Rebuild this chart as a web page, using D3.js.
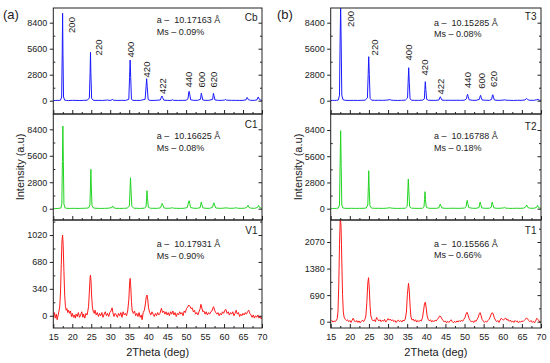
<!DOCTYPE html>
<html>
<head>
<meta charset="utf-8">
<script src="https://cdn.jsdelivr.net/npm/d3@7"></script>
<style>
  body { margin: 0; background: #fff; }
  svg { font-family: "Liberation Sans", Arial, sans-serif; }
</style>
</head>
<body>
<div id="container"></div>
<script>
/* CONSTANTS AND GLOBALS */
const width = 550;
const height = 363;

/* DATA */
const xMajor = [15, 20, 25, 30, 35, 40, 45, 50, 55, 60, 65, 70];
const xMinor = [17.5, 22.5, 27.5, 32.5, 37.5, 42.5, 47.5, 52.5, 57.5, 62.5, 67.5];

const ticksBig = [0, 2800, 5600, 8400];
const ticksBigMinor = [1400, 4200, 7000];
const ticksV1 = [0, 340, 680, 1020];
const ticksV1Minor = [170, 510, 850, 1190];
const ticksT1 = [0, 690, 1380, 2070];
const ticksT1Minor = [345, 1035, 1725, 2415];

const samples = ["Cb", "C1", "V1", "T3", "T2", "T1"];
const latticeA = ["10.17163", "10.16625", "10.17931", "10.15285", "10.16788", "10.15566"];
const strainMs = ["0.09", "0.08", "0.90", "0.08", "0.18", "0.66"];

const hkl = ["200", "220", "400", "420", "422", "440", "600", "620"];
// label anchors [2theta, intensity]
const cbLabelAt = [[19.9, 8150], [26.9, 5730], [35.5, 5510], [39.6, 3360], [43.8, 1580], [50.8, 2280], [54.0, 2280], [57.2, 2280]];
const t3LabelAt = [[20.3, 8800], [26.6, 5730], [35.3, 5190], [39.7, 3575], [43.8, 1510], [50.8, 2230], [54.5, 2140], [57.5, 2340]];

const cb = [[15,30],[15.5,20],[16,40],[16.5,30],[16.9,60],[17.2,400],[17.35,5000],[17.45,9410],[17.55,5000],[17.7,400],[18.0,60],[18.5,30],[19,20],[20,40],[21,30],[22,20],[23,40],[24,60],[24.5,300],[24.7,3000],[24.8,5210],[24.9,3000],[25.1,250],[25.5,60],[26,30],[27,40],[28,30],[29,60],[29.2,100],[29.4,50],[30,40],[30.45,80],[30.6,150],[30.8,60],[31.5,40],[32,30],[33,40],[34,30],[34.9,150],[35.1,2500],[35.25,4380],[35.4,2500],[35.6,150],[36,40],[37,30],[38,40],[39.2,150],[39.45,1500],[39.6,2370],[39.75,1500],[40,120],[40.5,40],[41,30],[42,40],[43.2,80],[43.5,400],[43.65,506],[43.8,350],[44.1,60],[45,40],[46,30],[46.4,100],[46.7,40],[48,30],[49,40],[50,50],[50.5,200],[50.7,900],[50.8,1010],[50.95,700],[51.2,100],[52,40],[53,40],[53.8,150],[54.0,800],[54.15,550],[54.4,80],[55,40],[56,40],[57.0,150],[57.2,800],[57.35,550],[57.6,80],[58.5,40],[59.5,40],[60.2,80],[60.4,150],[60.6,60],[62,40],[63,40],[64,30],[65,40],[65.8,100],[66.1,350],[66.4,120],[67,40],[68,40],[68.7,100],[69.0,400],[69.3,150],[69.7,60],[70,40]];

const c1 = [[15,20],[15.5,30],[16,20],[16.5,40],[17,70],[17.25,500],[17.4,5000],[17.52,8750],[17.65,5000],[17.8,500],[18.1,80],[18.6,40],[19.5,30],[20.5,40],[21.5,30],[22.5,40],[23.5,50],[24.3,80],[24.65,400],[24.8,2500],[24.9,4170],[25.0,2500],[25.2,300],[25.6,70],[26.5,40],[27.5,30],[28.5,40],[29.5,50],[30.4,120],[30.65,290],[30.85,100],[31.5,40],[32.5,30],[33.5,40],[34.5,60],[35.05,300],[35.22,2000],[35.35,3280],[35.48,2000],[35.7,250],[36.2,50],[37,40],[38,30],[39,60],[39.45,200],[39.58,1100],[39.7,1905],[39.82,1100],[40.05,150],[40.6,50],[41.5,40],[42.5,40],[43.3,100],[43.55,450],[43.7,570],[43.85,400],[44.2,70],[45,40],[46,60],[46.4,110],[46.7,50],[47.5,40],[48.5,30],[49.5,50],[50.3,120],[50.6,600],[50.8,850],[50.95,550],[51.2,120],[52,50],[53,40],[53.7,120],[53.9,500],[54.0,710],[54.15,450],[54.4,90],[55.2,40],[56.2,40],[57.0,150],[57.2,550],[57.35,635],[57.5,400],[57.8,80],[58.7,40],[59.7,50],[60.5,90],[61.5,40],[62.5,50],[63.2,100],[63.6,50],[64.5,40],[65.5,60],[66.0,150],[66.3,360],[66.55,150],[67,60],[68,40],[68.8,120],[69.1,350],[69.4,120],[69.8,50],[70,40]];

const v1 = [[15,-20],[15.3,40],[15.5,-30],[15.8,20],[16,-50],[16.3,10],[16.5,60],[16.7,120],[16.9,300],[17.1,650],[17.3,960],[17.45,1020],[17.6,900],[17.8,560],[18,260],[18.2,120],[18.4,70],[18.6,90],[18.8,40],[19,70],[19.3,30],[19.5,60],[19.8,-10],[20,30],[20.3,-20],[20.5,10],[20.8,-30],[21,20],[21.3,-10],[21.6,40],[21.9,-20],[22.2,10],[22.5,50],[22.8,-20],[23,20],[23.3,-30],[23.6,30],[23.9,10],[24.1,60],[24.3,120],[24.5,300],[24.7,480],[24.8,514],[24.95,430],[25.1,250],[25.3,110],[25.5,60],[25.8,30],[26,70],[26.3,10],[26.6,40],[26.9,-10],[27.2,30],[27.5,0],[27.8,40],[28.1,-20],[28.4,20],[28.7,50],[29,0],[29.3,30],[29.6,-10],[29.9,40],[30.2,60],[30.5,100],[30.7,40],[31,-10],[31.3,30],[31.6,10],[31.9,-20],[32.2,30],[32.5,0],[32.8,40],[33.1,-20],[33.4,50],[33.7,10],[34,30],[34.3,0],[34.6,60],[34.9,200],[35.1,400],[35.25,472],[35.4,380],[35.6,180],[35.8,60],[36.1,30],[36.4,60],[36.7,0],[37,30],[37.3,-10],[37.6,40],[37.9,-20],[38.2,10],[38.4,-50],[38.7,40],[39,70],[39.3,160],[39.5,240],[39.7,262],[39.9,200],[40.1,100],[40.4,40],[40.7,10],[41,50],[41.3,20],[41.6,-10],[41.9,30],[42.2,0],[42.5,40],[42.8,10],[43.1,30],[43.5,95],[43.8,40],[44.1,60],[44.4,20],[44.7,50],[45,10],[45.3,40],[45.6,0],[45.9,50],[46.2,20],[46.5,60],[46.8,10],[47.1,40],[47.4,-10],[47.7,30],[48,10],[48.3,50],[48.6,20],[48.9,40],[49.2,0],[49.5,60],[49.8,40],[50.1,90],[50.4,110],[50.7,135],[51,120],[51.3,90],[51.6,100],[51.9,50],[52.2,70],[52.5,20],[52.8,40],[53.1,10],[53.4,50],[53.7,90],[53.9,144],[54.1,110],[54.4,50],[54.7,60],[55,20],[55.3,50],[55.6,10],[55.9,40],[56.2,20],[56.5,50],[56.8,60],[57.1,100],[57.25,114],[57.5,70],[57.8,40],[58.1,20],[58.4,40],[58.7,0],[59,30],[59.3,10],[59.6,50],[59.9,30],[60.2,70],[60.5,80],[60.8,30],[61.1,50],[61.4,10],[61.7,40],[62,20],[62.3,50],[62.6,0],[62.9,30],[63.2,70],[63.5,20],[63.8,40],[64.1,-10],[64.4,20],[64.7,0],[65,30],[65.3,10],[65.6,40],[65.9,20],[66.2,50],[66.5,70],[66.8,30],[67.1,10],[67.4,-20],[67.7,10],[68,-30],[68.3,0],[68.6,-20],[68.9,10],[69.2,-30],[69.5,-10],[69.8,-40],[70,-20]];

const t3 = [[15,20],[15.5,40],[16,30],[16.5,40],[17,80],[17.3,600],[17.45,6000],[17.6,10300],[17.75,6000],[17.9,600],[18.2,120],[18.6,60],[19,40],[20,30],[21,40],[22,30],[23,40],[24,60],[24.6,300],[24.8,2800],[24.94,4740],[25.1,2800],[25.3,250],[25.7,60],[26.5,40],[27.5,50],[28.5,40],[29.5,60],[30.3,100],[30.5,150],[30.7,70],[31.5,40],[32.5,30],[33.5,40],[34.5,60],[35.1,300],[35.25,2000],[35.4,3550],[35.55,2000],[35.75,200],[36.2,50],[37,40],[38,40],[39,60],[39.5,200],[39.62,1200],[39.74,2050],[39.88,1200],[40.1,150],[40.6,50],[41.5,40],[42.5,40],[43.3,80],[43.55,350],[43.66,430],[43.8,300],[44.1,70],[45,40],[46,50],[47,40],[48,50],[49,40],[50,60],[50.5,200],[50.7,600],[50.8,690],[50.95,450],[51.2,100],[52,50],[53,40],[53.9,150],[54.1,520],[54.2,580],[54.35,350],[54.6,80],[55.5,50],[56.5,40],[57.1,150],[57.3,600],[57.4,646],[57.55,400],[57.8,80],[58.5,40],[59.5,50],[60.4,80],[60.6,120],[60.8,60],[61.8,40],[62.8,30],[63.8,50],[64.8,40],[65.8,80],[66.1,200],[66.25,250],[66.5,120],[67,50],[68,40],[68.9,100],[69.2,150],[69.5,60],[70,40]];

const t2 = [[15,20],[15.5,30],[16,20],[16.5,40],[17,60],[17.3,400],[17.45,4500],[17.6,8325],[17.75,4500],[17.9,400],[18.2,80],[18.7,40],[19.5,30],[20.5,40],[21.5,30],[22.5,40],[23.5,40],[24.3,70],[24.7,400],[24.85,2400],[24.94,4056],[25.05,2400],[25.25,300],[25.7,60],[26.5,40],[27.5,40],[28.5,30],[29.5,50],[30.3,90],[30.5,150],[30.7,70],[31.5,40],[32.5,30],[33.5,40],[34.5,50],[35.0,250],[35.17,1900],[35.3,3170],[35.43,1900],[35.65,200],[36.2,50],[37,40],[38,30],[39,50],[39.4,200],[39.55,1000],[39.66,1815],[39.78,1000],[40.0,150],[40.6,50],[41.5,40],[42.5,40],[43.3,90],[43.55,400],[43.66,500],[43.8,350],[44.1,70],[45,40],[46,40],[47,50],[48,40],[49,40],[50,70],[50.4,200],[50.6,750],[50.7,890],[50.85,550],[51.1,120],[52,50],[53,40],[53.8,120],[54.0,600],[54.1,715],[54.25,450],[54.5,80],[55.5,40],[56.5,50],[57.0,150],[57.15,600],[57.26,715],[57.4,450],[57.7,80],[58.5,40],[59.5,50],[60.2,90],[60.4,150],[60.65,70],[61.5,40],[62.5,30],[63.5,50],[64.5,40],[65.5,60],[66.0,200],[66.25,395],[66.5,150],[67,60],[68,40],[68.8,120],[69.1,360],[69.4,120],[69.8,50],[70,40]];

const t1 = [[15,0],[15.3,30],[15.6,-10],[15.9,20],[16.2,0],[16.5,40],[16.7,80],[16.9,250],[17.1,900],[17.3,2000],[17.5,2700],[17.7,2500],[17.9,1600],[18.1,700],[18.3,250],[18.5,120],[18.8,60],[19.1,30],[19.4,50],[19.7,0],[20,30],[20.3,-20],[20.6,40],[20.9,90],[21.2,20],[21.5,-10],[21.8,30],[22.1,-20],[22.4,20],[22.7,-30],[23,10],[23.3,40],[23.6,0],[23.9,50],[24.2,150],[24.45,500],[24.7,1000],[24.9,1143],[25.1,850],[25.3,400],[25.5,150],[25.8,60],[26.1,20],[26.4,50],[26.7,0],[27,110],[27.3,60],[27.6,20],[27.9,50],[28.2,0],[28.5,40],[28.8,10],[29.1,60],[29.4,-10],[29.7,30],[30,80],[30.3,40],[30.6,70],[30.9,20],[31.2,50],[31.5,0],[31.8,30],[32.1,-20],[32.4,20],[32.7,40],[33,0],[33.3,30],[33.6,-10],[33.9,40],[34.2,20],[34.5,70],[34.8,250],[35.05,700],[35.35,997],[35.55,800],[35.8,350],[36,120],[36.3,40],[36.6,70],[36.9,10],[37.2,50],[37.5,-10],[37.8,30],[38.1,0],[38.4,40],[38.7,20],[39,100],[39.3,300],[39.55,480],[39.75,504],[39.95,380],[40.2,160],[40.5,60],[40.8,20],[41.1,50],[41.4,-10],[41.7,30],[42,0],[42.3,40],[42.6,20],[42.9,60],[43.2,100],[43.5,148],[43.8,130],[44.1,70],[44.4,30],[44.7,-10],[45,20],[45.3,-30],[45.6,10],[45.9,-20],[46.2,20],[46.5,50],[46.8,0],[47.1,-30],[47.4,10],[47.7,-20],[48,20],[48.3,-10],[48.6,30],[48.9,0],[49.2,40],[49.5,10],[49.8,60],[50.1,100],[50.4,200],[50.65,244],[50.9,180],[51.2,80],[51.5,30],[51.8,-10],[52.1,20],[52.4,-20],[52.7,30],[53,10],[53.3,60],[53.6,120],[53.9,220],[54.1,234],[54.35,150],[54.6,60],[54.9,20],[55.2,-20],[55.5,10],[55.8,-10],[56.1,30],[56.4,60],[56.7,120],[57,200],[57.25,234],[57.5,200],[57.8,100],[58.1,40],[58.4,0],[58.7,30],[59,-20],[59.3,40],[59.6,90],[59.9,60],[60.2,40],[60.5,80],[60.8,90],[61.1,40],[61.4,60],[61.7,10],[62,40],[62.3,-10],[62.6,20],[62.9,-20],[63.2,30],[63.5,0],[63.8,20],[64.1,-30],[64.4,10],[64.7,-10],[65,20],[65.3,0],[65.6,30],[65.9,60],[66.2,100],[66.5,70],[66.8,30],[67.1,0],[67.4,30],[67.7,-20],[68,10],[68.3,-30],[68.6,20],[68.9,90],[69.2,60],[69.5,20],[69.8,-20],[70,10]];

/* LAYOUT */
const cols = [{ x0: 53.3, x1: 262, tag: "(a)", tagX: 3 }, { x0: 330.7, x1: 541, tag: "(b)", tagX: 277 }];
const rows = [[8, 114], [114, 220], [220, 328]];

const blue = "#1a1aff", green = "#22d422", red = "#ff1a1a";

const panels = [
  { col: 0, row: 0, data: cb, color: blue, dom: [-1430, 9980], ticks: ticksBig, minor: ticksBigMinor, labels: cbLabelAt, aY: 22.5, mY: 34.5, sY: 20.6 },
  { col: 0, row: 1, data: c1, color: green, dom: [-1195, 10020], ticks: ticksBig, minor: ticksBigMinor, aY: 139.3, mY: 150.5, sY: 127.6 },
  { col: 0, row: 2, data: v1, color: red, dom: [-155, 1210], ticks: ticksV1, minor: ticksV1Minor, aY: 247, mY: 259, sY: 234.3 },
  { col: 1, row: 0, data: t3, color: blue, dom: [-1430, 9980], ticks: ticksBig, minor: ticksBigMinor, labels: t3LabelAt, aY: 26, mY: 36.5, sY: 19.6 },
  { col: 1, row: 1, data: t2, color: green, dom: [-1206, 10107], ticks: ticksBig, minor: ticksBigMinor, aY: 139.3, mY: 150.5, sY: 129.6 },
  { col: 1, row: 2, data: t1, color: red, dom: [-164, 2641], ticks: ticksT1, minor: ticksT1Minor, aY: 247, mY: 258.3, sY: 234.3 }
];

const svg = d3.select("#container")
  .append("svg")
  .attr("width", width)
  .attr("height", height);

const ink = "#222";

panels.forEach((p, i) => {
  const c = cols[p.col];
  const [y0, y1] = rows[p.row];

  const xScale = d3.scaleLinear().domain([15, 70]).range([c.x0, c.x1]);
  const yScale = d3.scaleLinear().domain(p.dom).range([y1, y0]);

  const g = svg.append("g");

  // clip
  svg.append("clipPath").attr("id", "clip" + i)
    .append("rect")
    .attr("x", c.x0).attr("y", y0)
    .attr("width", c.x1 - c.x0).attr("height", y1 - y0);

  // line
  const line = d3.line().x(d => xScale(d[0])).y(d => yScale(d[1]));
  g.append("path")
    .datum(p.data)
    .attr("clip-path", `url(#clip${i})`)
    .attr("fill", "none")
    .attr("stroke", p.color)
    .attr("stroke-width", 1)
    .attr("stroke-linejoin", "round")
    .attr("d", line);

  // axes
  const style = sel => {
    sel.select(".domain").remove();
    sel.selectAll("line").attr("stroke", ink);
    sel.selectAll("text").attr("fill", ink).style("font-size", "9px").style("font-family", "Liberation Sans, Arial, sans-serif");
  };

  g.append("g").attr("transform", `translate(${c.x0},0)`)
    .call(d3.axisLeft(yScale).tickValues(p.ticks).tickSize(3.5).tickPadding(2.5).tickFormat(d3.format("d")))
    .call(style);
  g.append("g").attr("transform", `translate(${c.x0},0)`)
    .call(d3.axisLeft(yScale).tickValues(p.minor).tickSize(-2).tickFormat(""))
    .call(style);
  g.append("g").attr("transform", `translate(${c.x1},0)`)
    .call(d3.axisRight(yScale).tickValues(p.ticks).tickSize(-3.5).tickFormat(""))
    .call(style);
  g.append("g").attr("transform", `translate(${c.x1},0)`)
    .call(d3.axisRight(yScale).tickValues(p.minor).tickSize(-2).tickFormat(""))
    .call(style);

  g.append("g").attr("transform", `translate(0,${y1})`)
    .call(d3.axisBottom(xScale).tickValues(xMajor).tickSize(-4).tickPadding(5.5)
      .tickFormat(p.row === 2 ? d3.format("d") : ""))
    .call(style);
  g.append("g").attr("transform", `translate(0,${y1})`)
    .call(d3.axisBottom(xScale).tickValues(xMinor).tickSize(-2).tickFormat(""))
    .call(style);

  // frame
  g.append("rect")
    .attr("x", c.x0).attr("y", y0)
    .attr("width", c.x1 - c.x0).attr("height", y1 - y0)
    .attr("fill", "none").attr("stroke", ink).attr("stroke-width", 1);

  // hkl labels
  if (p.labels) {
    g.selectAll(".hkl")
      .data(p.labels)
      .join("text")
      .attr("class", "hkl")
      .attr("transform", d => `translate(${xScale(d[0])},${yScale(d[1])}) rotate(-90)`)
      .attr("text-anchor", "middle")
      .attr("dy", "0.35em")
      .attr("fill", ink)
      .style("font-size", "9.5px")
      .text((d, j) => hkl[j]);
  }

  // annotations
  const ax = c.x0 + 103.4;
  g.append("text")
    .attr("x", ax).attr("y", p.aY)
    .attr("fill", ink).style("font-size", "9px")
    .attr("xml:space", "preserve")
    .style("white-space", "pre")
    .text(`a –  ${latticeA[i]} Å`);
  g.append("text")
    .attr("x", ax).attr("y", p.mY)
    .attr("fill", ink).style("font-size", "9px")
    .text(`Ms – ${strainMs[i]}%`);

  g.append("text")
    .attr("x", c.x1 - 4.5).attr("y", p.sY)
    .attr("text-anchor", "end")
    .attr("fill", ink).style("font-size", "10px")
    .text(samples[i]);
});

// shared titles
cols.forEach(c => {
  svg.append("text")
    .attr("x", c.tagX).attr("y", 19)
    .attr("fill", ink).style("font-size", "13px")
    .text(c.tag);

  svg.append("text")
    .attr("transform", `translate(${c.x0 - 33},167) rotate(-90)`)
    .attr("text-anchor", "middle")
    .attr("dy", "0.35em")
    .attr("fill", ink).style("font-size", "11px")
    .text("Intensity (a.u)");

  svg.append("text")
    .attr("x", (c.x0 + c.x1) / 2).attr("y", 356)
    .attr("text-anchor", "middle")
    .attr("fill", ink).style("font-size", "11px")
    .text("2Theta (deg)");
});
</script>
</body>
</html>
